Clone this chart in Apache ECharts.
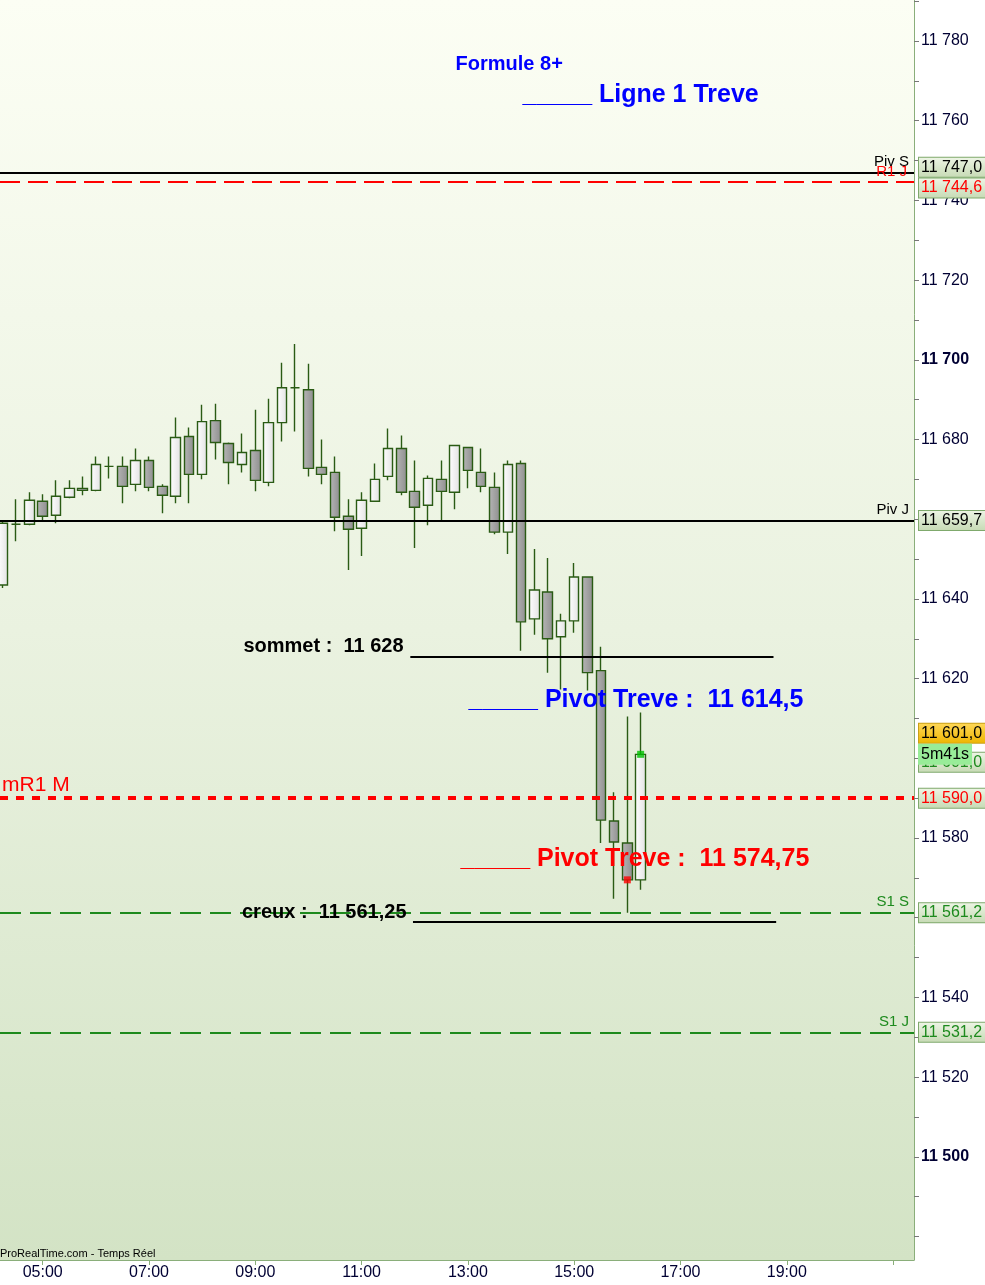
<!DOCTYPE html>
<html><head><meta charset="utf-8">
<script src="https://cdn.jsdelivr.net/npm/echarts@6/dist/echarts.min.js"></script>
<style>html,body{margin:0;padding:0;background:#fff}#c{width:985px;height:1285px}</style>
</head><body><div id="c"></div>
<script>
// ---- data ----
const candleTimes = ['04:15','04:30','04:45','05:00','05:15','05:30','05:45','06:00','06:15','06:30','06:45','07:00','07:15','07:30','07:45','08:00','08:15','08:30','08:45','09:00','09:15','09:30','09:45','10:00','10:15','10:30','10:45','11:00','11:15','11:30','11:45','12:00','12:15','12:30','12:45','13:00','13:15','13:30','13:45','14:00','14:15','14:30','14:45','15:00','15:15','15:30','15:45','16:00','16:15'];
const opens  = [11643.5,11658.75,11658.75,11664.5,11661.0,11665.5,11667.75,11667.25,11673.25,11673.25,11668.75,11674.75,11668.25,11665.75,11680.75,11671.25,11684.75,11679.0,11673.75,11677.25,11669.25,11684.25,11693.0,11692.5,11673.0,11671.75,11660.75,11657.75,11664.5,11670.75,11677.75,11667.0,11663.5,11670.0,11666.75,11678.0,11671.75,11668.0,11656.75,11674.0,11635.0,11641.75,11630.5,11634.5,11645.5,11622.0,11584.25,11578.75,11569.5];
const highs  = [11659.75,11665.0,11666.75,11666.25,11669.75,11669.75,11670.75,11675.75,11675.75,11675.75,11677.75,11675.75,11668.75,11685.5,11683.0,11688.75,11689.0,11679.25,11681.5,11687.5,11690.25,11699.25,11704.0,11699.0,11680.0,11675.75,11665.0,11666.75,11674.0,11682.75,11681.0,11674.75,11671.0,11674.75,11678.5,11678.0,11677.75,11671.75,11674.75,11674.75,11652.5,11650.25,11636.25,11649.0,11645.5,11628.0,11591.5,11610.5,11611.5];
const lows   = [11642.75,11654.5,11658.5,11659.5,11659.0,11665.25,11666.0,11667.0,11670.25,11664.0,11667.0,11667.0,11661.5,11664.0,11664.0,11670.0,11675.0,11668.75,11671.75,11667.0,11668.25,11679.5,11682.0,11670.75,11668.75,11657.0,11647.25,11650.75,11664.5,11669.75,11666.0,11652.75,11658.5,11659.5,11662.5,11667.75,11666.75,11656.25,11651.25,11627.0,11631.0,11621.5,11617.25,11631.5,11617.0,11578.75,11564.75,11561.25,11567.0];
const closes = [11659.0,11658.75,11664.75,11660.75,11665.75,11667.75,11667.25,11673.75,11673.25,11668.25,11674.75,11668.0,11666.0,11680.5,11671.25,11684.5,11679.25,11674.25,11676.75,11669.75,11684.25,11693.0,11693.0,11672.75,11671.25,11660.5,11657.5,11664.75,11670.0,11677.75,11666.75,11663.0,11670.25,11667.0,11678.5,11672.25,11668.25,11656.75,11673.75,11634.25,11642.25,11630.0,11634.5,11645.5,11621.5,11584.5,11579.0,11569.5,11601.0];

const levelNames  = ['Piv S','R1 J','Piv J','mR1 M','S1 S','S1 J'];
const levelValues = [11747.0,11744.6,11659.7,11590.0,11561.25,11531.25];
const levelTexts  = ['11 747,0','11 744,6','11 659,7','11 590,0','11 561,2','11 531,2'];
// where each value box sits on the right axis (boxes are pushed apart when they overlap)
const levelBoxValues = [11748.3,11743.1,11659.7,11590.0,11561.25,11531.25];

const priceBoxTexts  = ['11 601,0','11 601,0','5m41s'];
const priceBoxValues = [11606.3,11599.0,11601.0];

const sommetValue = 11628, creuxValue = 11561.25;
const pivotTreveBlue = 11614.5, pivotTreveRed = 11574.75;

const markerTimes  = ['16:15','16:00'];
const markerValues = [11601.0,11569.5];

const xLabelValues = ['05:00','07:00','09:00','11:00','13:00','15:00','17:00','19:00'];
const xTickValues  = ['05:00','07:00','09:00','11:00','13:00','15:00','17:00','19:00','21:00'];
const yLabelValues = [11500,11520,11540,11560,11580,11600,11620,11640,11660,11680,11700,11720,11740,11760,11780];
const yTickValues  = [11480,11490,11500,11510,11520,11530,11540,11550,11560,11570,11580,11590,11600,11610,11620,11630,11640,11650,11660,11670,11680,11690,11700,11710,11720,11730,11740,11750,11760,11770,11780,11790];

// ---- helpers ----
const toMin = s => { const p = s.split(':'); return (+p[0]) * 60 + (+p[1]); };
const fmtTime = m => { const h = Math.floor(m / 60), mm = Math.round(m % 60); return String(h).padStart(2,'0') + ':' + String(mm).padStart(2,'0'); };
const fmtY = v => Math.floor(v / 1000) + ' ' + String(Math.round(v % 1000)).padStart(3, '0');

const candleData = candleTimes.map((t, i) => [toMin(t), opens[i], closes[i], lows[i], highs[i]]);

const chart = echarts.init(document.getElementById('c'), null, {renderer: 'canvas'});
const green = '#1d8a1d';
const boxBg = new echarts.graphic.LinearGradient(0, 0, 0, 1, [{offset: 0, color: '#eef5e6'}, {offset: 1, color: '#c6dab4'}]);
const boxBorder = '#7fa96c';
const yellowBg = new echarts.graphic.LinearGradient(0, 0, 0, 1, [{offset: 0, color: '#ffd95a'}, {offset: 1, color: '#eeb400'}]);
const hidden = {color: 'rgba(0,0,0,0)', width: 1, type: 'solid'};

const levelStyles = [
  {color:'#000', type:'solid', width:2, pos:'insideEndTop', fs:15, d:[5,3]},
  {color:'#ff0000', type:[20,8], width:2, pos:'insideEndTop', fs:15, d:[7,3]},
  {color:'#000', type:'solid', width:2, pos:'insideEndTop', fs:15, d:[5,3]},
  {color:'#ff0000', type:[8,8], width:4, pos:'insideStartTop', fs:21, d:[2,2]},
  {color:green, type:[21,9], width:2, pos:'insideEndTop', fs:15, d:[5,3]},
  {color:green, type:[21,9], width:2, pos:'insideEndTop', fs:15, d:[5,3]}
];
const levelBoxColor = ['#000','#ff0000','#000','#ff0000',green,green];

const boxLabel = (text, color, bg, border, padR) => ({show: true, position: 'end', distance: 5, formatter: text, color: color,
  fontSize: 16, backgroundColor: bg, borderColor: border, borderWidth: 1, padding: [2, padR, 0, 2], lineHeight: 17});

const markLineData = [];
levelValues.forEach((v, i) => {
  const s = levelStyles[i];
  markLineData.push({
    yAxis: v,
    lineStyle: {color: s.color, type: s.type, width: s.width},
    label: {show: true, position: s.pos, formatter: levelNames[i], color: s.color, fontSize: s.fs, distance: s.d}
  });
});
levelBoxValues.forEach((v, i) => {
  markLineData.push({yAxis: v, lineStyle: hidden, label: boxLabel(levelTexts[i], levelBoxColor[i], boxBg, boxBorder, 30)});
});
// current price boxes
markLineData.push({yAxis: priceBoxValues[1], lineStyle: hidden, label: boxLabel(priceBoxTexts[1], green, boxBg, boxBorder, 30)});
markLineData.push({yAxis: priceBoxValues[0], lineStyle: hidden, label: boxLabel(priceBoxTexts[0], '#000', yellowBg, '#c9a018', 30)});
markLineData.push({yAxis: priceBoxValues[2], lineStyle: hidden, label: boxLabel(priceBoxTexts[2], '#000', '#98ec98', '#98ec98', 2)});
// sommet / creux segments
markLineData.push([{coord:[715, sommetValue - 2.5], lineStyle:{color:'#000', width:2, type:'solid'}, label:{show:false}}, {coord:[1125, sommetValue - 2.5]}]);
markLineData.push([{coord:[718, creuxValue - 2.3], lineStyle:{color:'#000', width:2, type:'solid'}, label:{show:false}}, {coord:[1128, creuxValue - 2.3]}]);

const fmtFr = (v, d) => { const s = v.toFixed(d).replace('.', ','); const ip = s.split(',')[0], dp = s.split(',')[1]; const ii = ip.slice(0, ip.length-3) + ' ' + ip.slice(-3); return dp ? ii + ',' + dp : ii; };

const textPoints = [
  {coord:[765.5, 11774.2], text:'Formule 8+', color:'#0000ff', fs:20, align:'left'},
  {coord:[841.1, 11766.45], text:'_____ Ligne 1 Treve', color:'#0000ff', fs:25, align:'left'},
  {coord:[780.1, pivotTreveBlue], text:'_____ Pivot Treve :  ' + fmtFr(pivotTreveBlue, 1), color:'#0000ff', fs:25, align:'left'},
  {coord:[771.1, pivotTreveRed], text:'_____ Pivot Treve :  ' + fmtFr(pivotTreveRed, 2), color:'#ff0000', fs:25, align:'left'},
  {coord:[707.9, sommetValue], text:'sommet :  ' + fmtFr(sommetValue, 0), color:'#000', fs:20, align:'right'},
  {coord:[711.3, creuxValue], text:'creux :  ' + fmtFr(creuxValue, 2), color:'#000', fs:20, align:'right'}
];

const option = {
  animation: false,
  backgroundColor: '#ffffff',
  textStyle: {fontFamily: 'Liberation Sans, Arial, sans-serif'},
  title: {text: 'ProRealTime.com - Temps Réel', left: 0, top: 1248, padding: 0,
    textStyle: {fontSize: 11, fontWeight: 'normal', color: '#000', fontFamily: 'Liberation Sans Narrow, Liberation Sans'}},
  grid: {left: 0, right: 71, top: 0, bottom: 25, show: true, borderWidth: 0,
    backgroundColor: new echarts.graphic.LinearGradient(0, 0, 0, 1, [
      {offset: 0, color: '#fcfef4'}, {offset: 0.5, color: '#eaf2e0'}, {offset: 1, color: '#d3e3c5'}])},
  xAxis: {type: 'value', min: 251.8, max: 1283.6, position: 'bottom',
    axisLine: {show: true, onZero: false, lineStyle: {color: '#8aae7a', width: 1}},
    axisTick: {show: true, customValues: xTickValues.map(toMin), length: 5, lineStyle: {color: '#8aae7a'}},
    axisLabel: {customValues: xLabelValues.map(toMin), formatter: v => fmtTime(v), color: '#000033', fontSize: 16, margin: 5},
    splitLine: {show: false}},
  yAxis: {type: 'value', min: 11474.1, max: 11790.3, position: 'right', scale: true,
    axisLine: {show: true, onZero: false, lineStyle: {color: '#8aae7a', width: 1}},
    axisTick: {show: true, customValues: yTickValues, length: 5, lineStyle: {color: '#777'}},
    axisLabel: {customValues: yLabelValues, margin: 7, color: '#000033', fontSize: 16,
      formatter: v => v % 100 === 0 ? '{b|' + fmtY(v) + '}' : fmtY(v),
      rich: {b: {fontWeight: 'bold', fontSize: 16, color: '#000033'}}},
    splitLine: {show: false}},
  series: [
    {type: 'line', data: [], clip: false, silent: true, z: 3,
      markLine: {silent: true, symbol: ['none', 'none'], animation: false, data: markLineData},
      markPoint: {silent: true, symbol: 'circle', symbolSize: 1, itemStyle: {color: 'rgba(0,0,0,0)'}, animation: false,
        data: textPoints.map(p => ({coord: p.coord, value: 0,
          label: {show: true, position: p.align === 'left' ? 'right' : 'left', distance: 0, formatter: p.text,
            color: p.color, fontSize: p.fs, fontWeight: 'bold'}}))}},
    {type: 'candlestick', data: candleData, encode: {x: 0, y: [1, 2, 3, 4]}, barWidth: 10, z: 4,
      itemStyle: {
        color: new echarts.graphic.LinearGradient(0, 0, 1, 0, [{offset: 0, color: '#ffffff'}, {offset: 1, color: '#e2e2e2'}]),
        color0: new echarts.graphic.LinearGradient(0, 0, 1, 0, [{offset: 0, color: '#b6b6b6'}, {offset: 1, color: '#8e8e8e'}]),
        borderColor: '#2a5b14', borderColor0: '#2a5b14', borderWidth: 1.4}},
    {type: 'scatter', z: 5, symbol: 'rect', symbolSize: 7,
      data: markerTimes.map((t, i) => ({value: [toMin(t), markerValues[i]], itemStyle: {color: i === 0 ? '#00c000' : '#ff0000'}}))}
  ]
};
chart.setOption(option);
</script></body></html>
